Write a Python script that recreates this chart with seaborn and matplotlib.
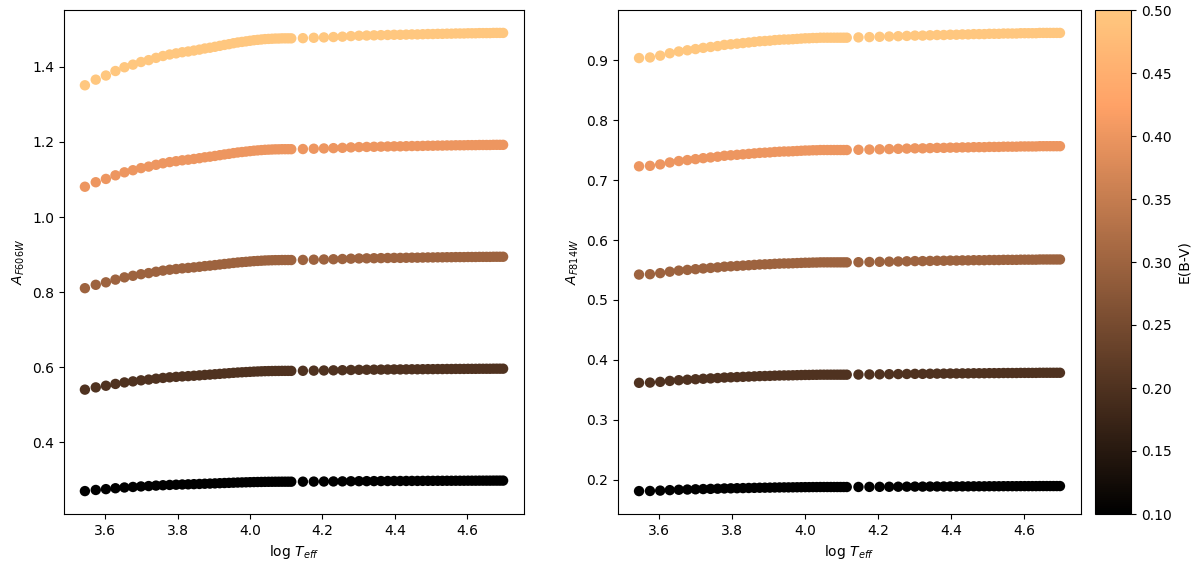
import numpy as np
import pandas as pd
import matplotlib
matplotlib.use("Agg")
import matplotlib.pyplot as plt
import seaborn as sns

# model grid: effective temperatures (K)
teff_cool = [3500, 3750, 4000, 4250, 4500, 4750, 5000, 5250, 5500, 5750,
             6000, 6250, 6500, 6750, 7000, 7250, 7500, 7750, 8000, 8250,
             8500, 8750, 9000, 9250, 9500, 9750, 10000, 10250, 10500, 10750,
             11000, 11250, 11500, 11750, 12000, 12250, 12500, 12750, 13000]
teff_hot = [14000, 15000, 16000, 17000, 18000, 19000, 20000, 21000, 22000,
            23000, 24000, 25000, 26000, 27000, 28000, 29000, 30000, 31000,
            32000, 33000, 34000, 35000, 36000, 37000, 38000, 39000, 40000,
            41000, 42000, 43000, 44000, 45000, 46000, 47000, 48000, 49000,
            50000]

# colour excess levels
ebv_levels = [0.1, 0.2, 0.3, 0.4, 0.5]

# extinction per unit E(B-V) (A = R * E(B-V))
r_f606w = [2.702, 2.732, 2.754, 2.778, 2.798, 2.812, 2.826, 2.836, 2.848, 2.858,
           2.866, 2.872, 2.878, 2.882, 2.887, 2.892, 2.898, 2.902, 2.907, 2.912,
           2.917, 2.921, 2.926, 2.930, 2.933, 2.936, 2.939, 2.942, 2.944, 2.946,
           2.948, 2.949, 2.950, 2.951, 2.951, 2.952, 2.952, 2.952, 2.952,
           2.953, 2.955, 2.957, 2.959, 2.961, 2.964, 2.966, 2.967, 2.968,
           2.969, 2.970, 2.971, 2.971, 2.972, 2.973, 2.973, 2.974, 2.975,
           2.975, 2.976, 2.976, 2.977, 2.977, 2.978, 2.978, 2.978, 2.979,
           2.979, 2.979, 2.980, 2.980, 2.980, 2.980, 2.981, 2.981, 2.981,
           2.981]
r_f814w = [1.808, 1.810, 1.816, 1.824, 1.830, 1.834, 1.838, 1.842, 1.845, 1.848,
           1.852, 1.854, 1.856, 1.858, 1.860, 1.862, 1.864, 1.865, 1.866, 1.868,
           1.869, 1.870, 1.870, 1.871, 1.872, 1.873, 1.874, 1.874, 1.875, 1.875,
           1.876, 1.876, 1.876, 1.876, 1.876, 1.876, 1.876, 1.876, 1.876,
           1.877, 1.878, 1.879, 1.880, 1.881, 1.882, 1.883, 1.883, 1.884,
           1.885, 1.885, 1.886, 1.886, 1.887, 1.887, 1.888, 1.888, 1.888,
           1.889, 1.889, 1.889, 1.890, 1.890, 1.890, 1.890, 1.891, 1.891,
           1.891, 1.891, 1.891, 1.892, 1.892, 1.892, 1.892, 1.892, 1.892,
           1.892]


def build_frame(r_values):
    logt = np.log10(np.array(teff_cool + teff_hot, dtype=float))
    rows = []
    for ebv in ebv_levels:
        for lt, r in zip(logt, r_values):
            rows.append({"logT": lt, "A": r * ebv, "ebv": ebv})
    return pd.DataFrame(rows)


df606 = build_frame(r_f606w)
df814 = build_frame(r_f814w)

W, H = 1200, 567
fig = plt.figure(figsize=(12, 5.67), dpi=100)
ax1 = fig.add_axes([64 / W, 53 / H, 460 / W, 504 / H])
ax2 = fig.add_axes([618 / W, 53 / H, 463 / W, 504 / H])
cax = fig.add_axes([1095 / W, 53 / H, 36 / W, 504 / H])

norm = plt.Normalize(0.1, 0.5)
for ax, df, lab in [(ax1, df606, r"$A_{F606W}$"), (ax2, df814, r"$A_{F814W}$")]:
    sns.scatterplot(data=df, x="logT", y="A", hue="ebv", palette="copper",
                    hue_norm=norm, s=56, linewidth=0, legend=False, ax=ax)
    ax.set_xlabel(r"log $T_{eff}$")
    ax.set_ylabel(lab)

sm = plt.cm.ScalarMappable(cmap="copper", norm=norm)
cb = fig.colorbar(sm, cax=cax)
cb.set_ticks([0.10, 0.15, 0.20, 0.25, 0.30, 0.35, 0.40, 0.45, 0.50])
cb.set_label("E(B-V)")

fig.savefig("out.png", dpi=100)
